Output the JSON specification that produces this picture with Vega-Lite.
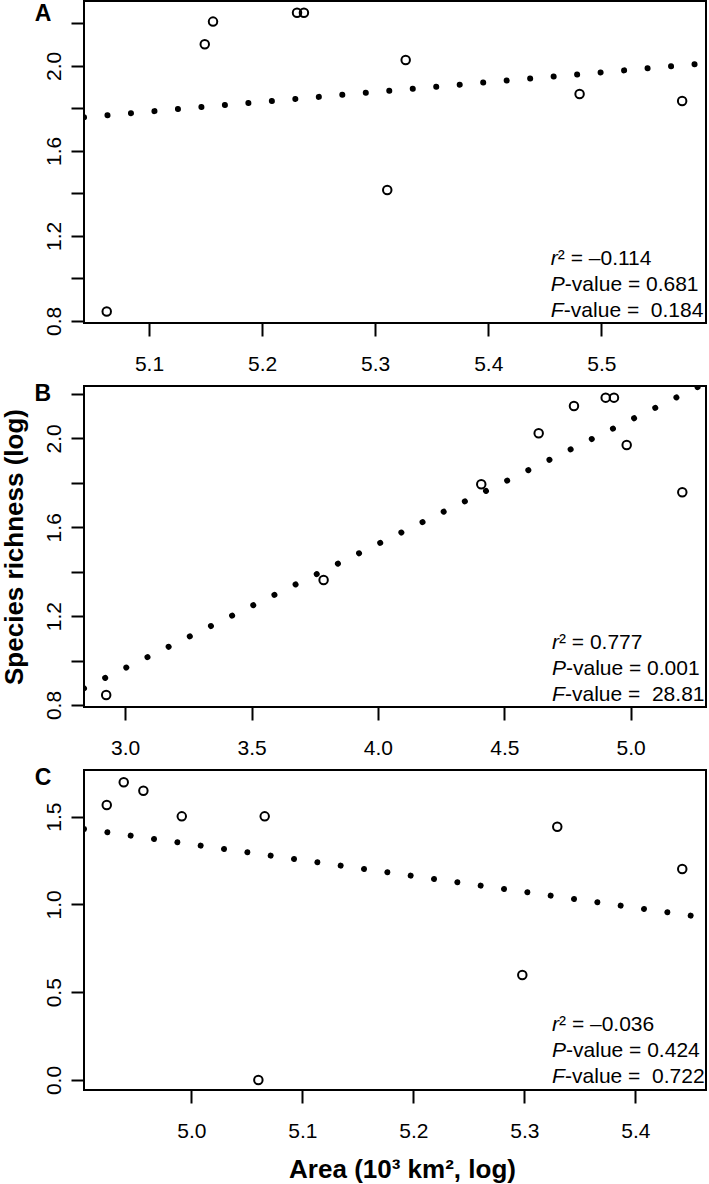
{
  "$schema": "https://vega.github.io/schema/vega-lite/v6.json",
  "padding": 0,
  "spacing": 6,
  "datasets": {
    "ptsA": [
      {"area": 5.0626, "richness": 0.844},
      {"area": 5.1493, "richness": 2.1015},
      {"area": 5.1566, "richness": 2.208},
      {"area": 5.2309, "richness": 2.25},
      {"area": 5.2370, "richness": 2.25},
      {"area": 5.3270, "richness": 2.0277},
      {"area": 5.3107, "richness": 1.416},
      {"area": 5.4808, "richness": 1.8677},
      {"area": 5.5715, "richness": 1.8348}
    ],
    "fitA": [
      {"area": 5.0425, "richness": 1.7581},
      {"area": 5.5926, "richness": 2.012}
    ],
    "ptsB": [
      {"area": 2.9248, "richness": 0.845},
      {"area": 3.785, "richness": 1.3628},
      {"area": 4.4088, "richness": 1.7937},
      {"area": 4.636, "richness": 2.0233},
      {"area": 4.7756, "richness": 2.1462},
      {"area": 4.9011, "richness": 2.1836},
      {"area": 4.9339, "richness": 2.1836},
      {"area": 4.9842, "richness": 1.9706},
      {"area": 5.2042, "richness": 1.7577}
    ],
    "fitB": [
      {"area": 2.837, "richness": 0.875},
      {"area": 5.268, "richness": 2.233}
    ],
    "ptsC": [
      {"area": 4.9238, "richness": 1.5666},
      {"area": 4.9391, "richness": 1.6959},
      {"area": 4.9568, "richness": 1.648},
      {"area": 4.9914, "richness": 1.502},
      {"area": 5.0661, "richness": 1.502},
      {"area": 5.0604, "richness": 0.0},
      {"area": 5.3297, "richness": 1.443},
      {"area": 5.4423, "richness": 1.2022},
      {"area": 5.2982, "richness": 0.5985}
    ],
    "fitC": [
      {"area": 4.9033, "richness": 1.43},
      {"area": 5.4637, "richness": 0.924}
    ],
    "one": [{}]
  },
  "vconcat": [
    {
      "width": 622,
      "height": 322,
      "layer": [
        {
          "data": {"name": "ptsA"},
          "mark": {"type": "point", "shape": "circle", "filled": false, "color": "black", "strokeWidth": 2, "size": 72, "opacity": 1},
          "encoding": {
            "x": {"field": "area", "type": "quantitative", "scale": {"domain": [5.0425, 5.5926], "nice": false, "zero": false},
                  "axis": {"values": [5.1, 5.2, 5.3, 5.4, 5.5], "format": ".1f", "title": null}},
            "y": {"field": "richness", "type": "quantitative", "scale": {"domain": [0.790, 2.305], "nice": false, "zero": false},
                  "axis": {"values": [0.8, 1.0, 1.2, 1.4, 1.6, 1.8, 2.0, 2.2], "format": ".1f", "labelExpr": "round(datum.value*10) % 4 == 0 ? datum.label : ''", "title": " "}}
          }
        },
        {
          "data": {"name": "fitA"},
          "mark": {"type": "line", "clip": true, "color": "black", "strokeWidth": 6, "strokeCap": "round", "strokeDash": [0.01, 23.56]},
          "encoding": {"x": {"field": "area", "type": "quantitative"}, "y": {"field": "richness", "type": "quantitative"}}
        },
        {
          "data": {"name": "one"},
          "mark": {"type": "text", "font": "Liberation Sans", "fontSize": 23, "fontWeight": "bold", "align": "center", "baseline": "alphabetic", "color": "black"},
          "encoding": {"x": {"datum": 5.0063}, "y": {"datum": 2.211}, "text": {"value": "A"}}
        },
        {
          "data": {"name": "one"},
          "mark": {"type": "text", "font": "Liberation Sans", "fontSize": 21, "fontStyle": "italic", "align": "left", "baseline": "alphabetic", "color": "black"},
          "encoding": {"x": {"datum": 5.4554}, "y": {"datum": 1.0634}, "text": {"value": "r"}}
        },
        {
          "data": {"name": "one"},
          "mark": {"type": "text", "font": "Liberation Sans", "fontSize": 21, "align": "left", "baseline": "alphabetic", "dx": 7, "color": "black"},
          "encoding": {"x": {"datum": 5.4554}, "y": {"datum": 1.0634}, "text": {"value": "² = –0.114"}}
        },
        {
          "data": {"name": "one"},
          "mark": {"type": "text", "font": "Liberation Sans", "fontSize": 21, "fontStyle": "italic", "align": "left", "baseline": "alphabetic", "color": "black"},
          "encoding": {"x": {"datum": 5.4554}, "y": {"datum": 0.9411}, "text": {"value": "P"}}
        },
        {
          "data": {"name": "one"},
          "mark": {"type": "text", "font": "Liberation Sans", "fontSize": 21, "align": "left", "baseline": "alphabetic", "dx": 14, "color": "black"},
          "encoding": {"x": {"datum": 5.4554}, "y": {"datum": 0.9411}, "text": {"value": "-value = 0.681"}}
        },
        {
          "data": {"name": "one"},
          "mark": {"type": "text", "font": "Liberation Sans", "fontSize": 21, "fontStyle": "italic", "align": "left", "baseline": "alphabetic", "color": "black"},
          "encoding": {"x": {"datum": 5.4554}, "y": {"datum": 0.8188}, "text": {"value": "F"}}
        },
        {
          "data": {"name": "one"},
          "mark": {"type": "text", "font": "Liberation Sans", "fontSize": 21, "align": "left", "baseline": "alphabetic", "dx": 13, "color": "black"},
          "encoding": {"x": {"datum": 5.4554}, "y": {"datum": 0.8188}, "text": {"value": "-value = \u00a00.184"}}
        }
      ]
    },
    {
      "width": 622,
      "height": 321,
      "layer": [
        {
          "data": {"name": "ptsB"},
          "mark": {"type": "point", "shape": "circle", "filled": false, "color": "black", "strokeWidth": 2, "size": 72, "opacity": 1},
          "encoding": {
            "x": {"field": "area", "type": "quantitative", "scale": {"domain": [2.837, 5.298], "nice": false, "zero": false},
                  "axis": {"values": [3.0, 3.5, 4.0, 4.5, 5.0], "format": ".1f", "title": null}},
            "y": {"field": "richness", "type": "quantitative", "scale": {"domain": [0.791, 2.236], "nice": false, "zero": false},
                  "axis": {"values": [0.8, 1.0, 1.2, 1.4, 1.6, 1.8, 2.0, 2.2], "format": ".1f", "labelExpr": "round(datum.value*10) % 4 == 0 ? datum.label : ''", "title": "Species richness (log)"}}
          }
        },
        {
          "data": {"name": "fitB"},
          "mark": {"type": "line", "clip": true, "color": "black", "strokeWidth": 6, "strokeCap": "round", "strokeDash": [0.01, 23.56]},
          "encoding": {"x": {"field": "area", "type": "quantitative"}, "y": {"field": "richness", "type": "quantitative"}}
        },
        {
          "data": {"name": "one"},
          "mark": {"type": "text", "font": "Liberation Sans", "fontSize": 23, "fontWeight": "bold", "align": "center", "baseline": "alphabetic", "color": "black"},
          "encoding": {"x": {"datum": 2.6743}, "y": {"datum": 2.1688}, "text": {"value": "B"}}
        },
        {
          "data": {"name": "one"},
          "mark": {"type": "text", "font": "Liberation Sans", "fontSize": 21, "fontStyle": "italic", "align": "left", "baseline": "alphabetic", "color": "black"},
          "encoding": {"x": {"datum": 4.6886}, "y": {"datum": 1.0521}, "text": {"value": "r"}}
        },
        {
          "data": {"name": "one"},
          "mark": {"type": "text", "font": "Liberation Sans", "fontSize": 21, "align": "left", "baseline": "alphabetic", "dx": 7, "color": "black"},
          "encoding": {"x": {"datum": 4.6886}, "y": {"datum": 1.0521}, "text": {"value": "² = 0.777"}}
        },
        {
          "data": {"name": "one"},
          "mark": {"type": "text", "font": "Liberation Sans", "fontSize": 21, "fontStyle": "italic", "align": "left", "baseline": "alphabetic", "color": "black"},
          "encoding": {"x": {"datum": 4.6886}, "y": {"datum": 0.935}, "text": {"value": "P"}}
        },
        {
          "data": {"name": "one"},
          "mark": {"type": "text", "font": "Liberation Sans", "fontSize": 21, "align": "left", "baseline": "alphabetic", "dx": 14, "color": "black"},
          "encoding": {"x": {"datum": 4.6886}, "y": {"datum": 0.935}, "text": {"value": "-value = 0.001"}}
        },
        {
          "data": {"name": "one"},
          "mark": {"type": "text", "font": "Liberation Sans", "fontSize": 21, "fontStyle": "italic", "align": "left", "baseline": "alphabetic", "color": "black"},
          "encoding": {"x": {"datum": 4.6886}, "y": {"datum": 0.818}, "text": {"value": "F"}}
        },
        {
          "data": {"name": "one"},
          "mark": {"type": "text", "font": "Liberation Sans", "fontSize": 21, "align": "left", "baseline": "alphabetic", "dx": 13, "color": "black"},
          "encoding": {"x": {"datum": 4.6886}, "y": {"datum": 0.818}, "text": {"value": "-value = \u00a028.81"}}
        }
      ]
    },
    {
      "width": 622,
      "height": 320,
      "layer": [
        {
          "data": {"name": "ptsC"},
          "mark": {"type": "point", "shape": "circle", "filled": false, "color": "black", "strokeWidth": 2, "size": 72, "opacity": 1},
          "encoding": {
            "x": {"field": "area", "type": "quantitative", "scale": {"domain": [4.9033, 5.4637], "nice": false, "zero": false},
                  "axis": {"values": [5.0, 5.1, 5.2, 5.3, 5.4], "format": ".1f", "title": "Area (10³ km², log)", "titleX": 318, "titleAlign": "center"}},
            "y": {"field": "richness", "type": "quantitative", "scale": {"domain": [-0.057, 1.766], "nice": false, "zero": false},
                  "axis": {"values": [0.0, 0.5, 1.0, 1.5], "format": ".1f", "title": " "}}
          }
        },
        {
          "data": {"name": "fitC"},
          "mark": {"type": "line", "clip": true, "color": "black", "strokeWidth": 6, "strokeCap": "round", "strokeDash": [0.01, 23.56]},
          "encoding": {"x": {"field": "area", "type": "quantitative"}, "y": {"field": "richness", "type": "quantitative"}}
        },
        {
          "data": {"name": "one"},
          "mark": {"type": "text", "font": "Liberation Sans", "fontSize": 23, "fontWeight": "bold", "align": "center", "baseline": "alphabetic", "color": "black"},
          "encoding": {"x": {"datum": 4.8664}, "y": {"datum": 1.6807}, "text": {"value": "C"}}
        },
        {
          "data": {"name": "one"},
          "mark": {"type": "text", "font": "Liberation Sans", "fontSize": 21, "fontStyle": "italic", "align": "left", "baseline": "alphabetic", "color": "black"},
          "encoding": {"x": {"datum": 5.325}, "y": {"datum": 0.2789}, "text": {"value": "r"}}
        },
        {
          "data": {"name": "one"},
          "mark": {"type": "text", "font": "Liberation Sans", "fontSize": 21, "align": "left", "baseline": "alphabetic", "dx": 7, "color": "black"},
          "encoding": {"x": {"datum": 5.325}, "y": {"datum": 0.2789}, "text": {"value": "² = –0.036"}}
        },
        {
          "data": {"name": "one"},
          "mark": {"type": "text", "font": "Liberation Sans", "fontSize": 21, "fontStyle": "italic", "align": "left", "baseline": "alphabetic", "color": "black"},
          "encoding": {"x": {"datum": 5.325}, "y": {"datum": 0.1308}, "text": {"value": "P"}}
        },
        {
          "data": {"name": "one"},
          "mark": {"type": "text", "font": "Liberation Sans", "fontSize": 21, "align": "left", "baseline": "alphabetic", "dx": 14, "color": "black"},
          "encoding": {"x": {"datum": 5.325}, "y": {"datum": 0.1308}, "text": {"value": "-value = 0.424"}}
        },
        {
          "data": {"name": "one"},
          "mark": {"type": "text", "font": "Liberation Sans", "fontSize": 21, "fontStyle": "italic", "align": "left", "baseline": "alphabetic", "color": "black"},
          "encoding": {"x": {"datum": 5.325}, "y": {"datum": -0.0174}, "text": {"value": "F"}}
        },
        {
          "data": {"name": "one"},
          "mark": {"type": "text", "font": "Liberation Sans", "fontSize": 21, "align": "left", "baseline": "alphabetic", "dx": 13, "color": "black"},
          "encoding": {"x": {"datum": 5.325}, "y": {"datum": -0.0174}, "text": {"value": "-value = \u00a00.722"}}
        }
      ]
    }
  ],
  "config": {
    "font": "Liberation Sans",
    "view": {"stroke": "black", "strokeWidth": 2},
    "axis": {
      "grid": false,
      "domain": false,
      "tickColor": "black",
      "tickWidth": 2,
      "tickSize": 13,
      "labelFont": "Liberation Sans",
      "labelFontSize": 21,
      "labelColor": "black",
      "labelOverlap": false,
      "labelFlush": false,
      "titleFont": "Liberation Sans",
      "titleFontSize": 26,
      "titleFontWeight": "bold",
      "titleColor": "black"
    },
    "axisX": {"labelPadding": 17, "titlePadding": 15},
    "axisY": {"labelAngle": -90, "labelAlign": "center", "labelBaseline": "alphabetic", "labelPadding": 11, "titlePadding": 16}
  }
}
